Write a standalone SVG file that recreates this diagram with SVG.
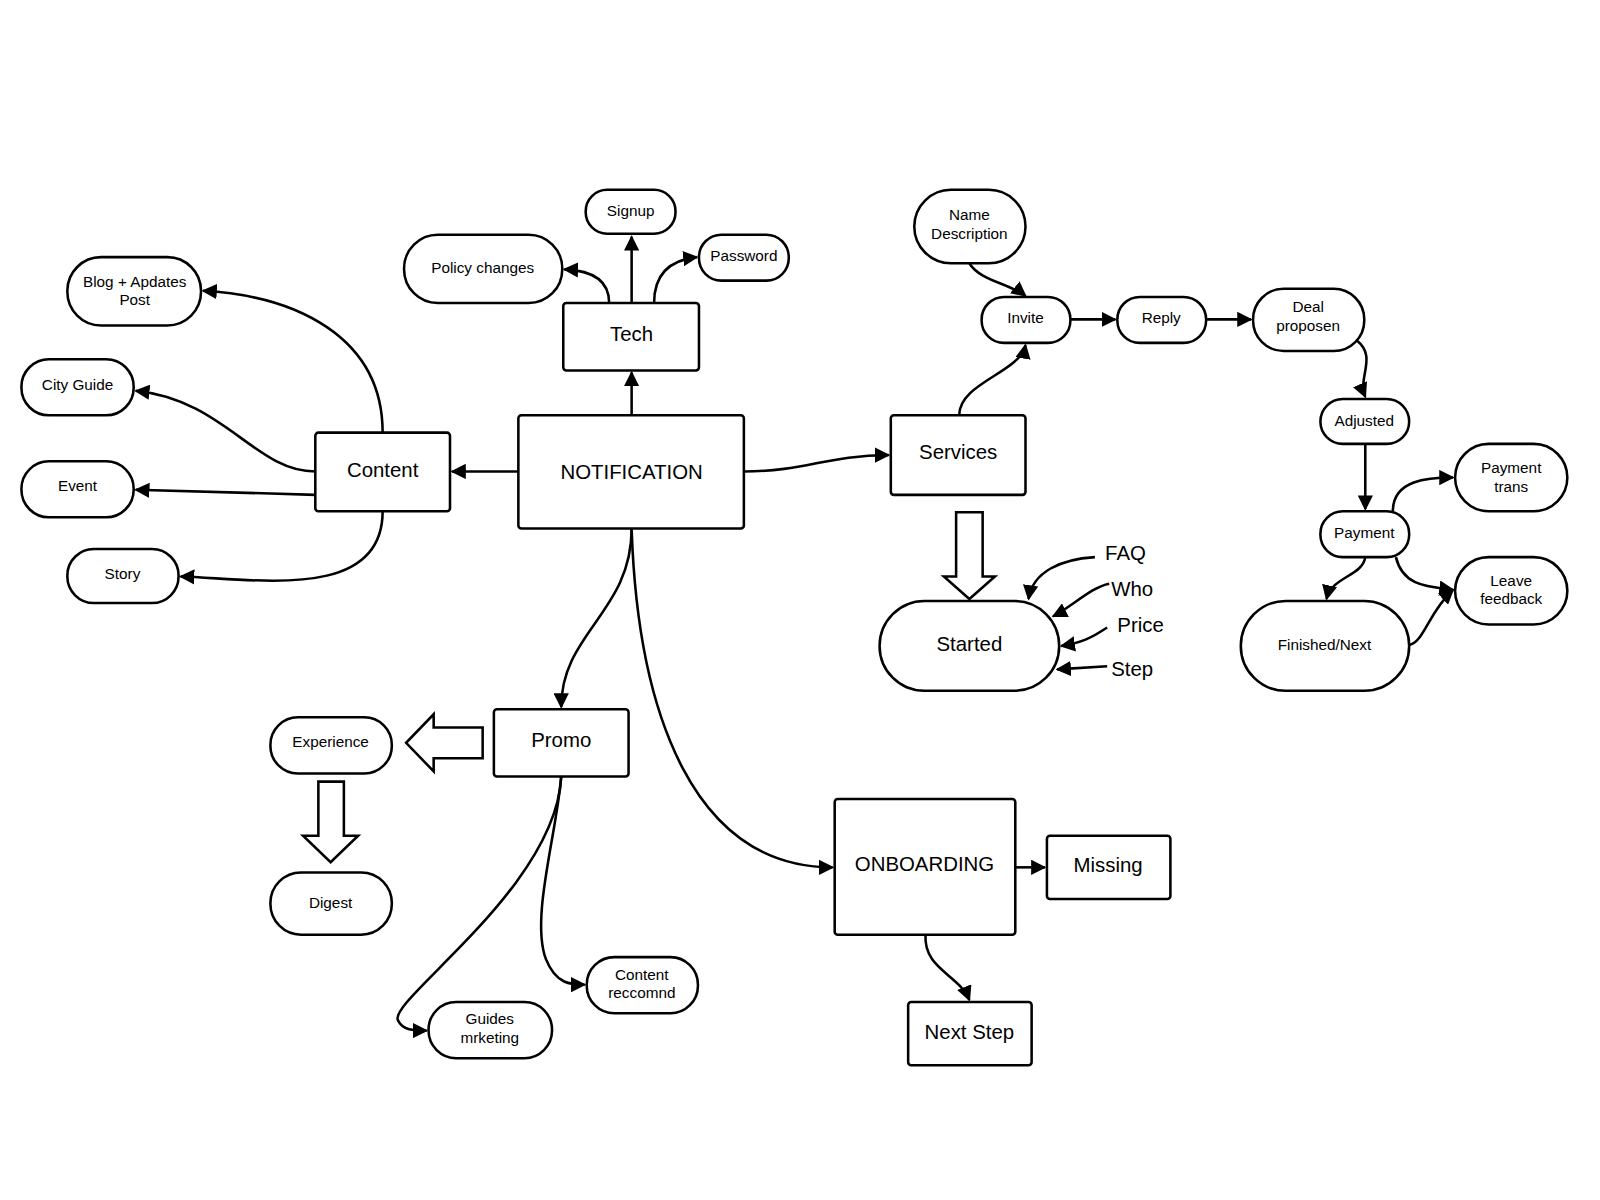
<svg xmlns="http://www.w3.org/2000/svg" width="1600" height="1200" viewBox="0 0 1600 1200">
<defs>
<marker id="a" viewBox="0 0 10 10" refX="9" refY="5" markerWidth="6" markerHeight="6" orient="auto-start-reverse"><path d="M0,0 L10,5 L0,10 z" fill="#000"/></marker>
<style>
g rect,.b{fill:#fff;stroke:#000;stroke-width:2.5}
.c path{fill:none;stroke:#000;stroke-width:2.5;marker-end:url(#a)}
text{font-family:"Liberation Sans",Arial,sans-serif;font-size:15px;text-anchor:middle;fill:#000}
.l{font-size:20px}
.f{font-size:20px;text-anchor:start}
</style>
</defs>
<rect width="1600" height="1200" fill="#fff"/>
<g id="diagram" transform="scale(1.0204)">
<g class="c">
<path d="M619,407 V365"/>
<path d="M508,462 H443"/>
<path d="M729,462 C790,462 810,446 871,446"/>
<path d="M619,297 V232"/>
<path d="M597,297 C597,275 580,265 553,264"/>
<path d="M641,297 C641,270 655,255 683,252"/>
<path d="M375,424 C375,330 290,290 199,285"/>
<path d="M309,462 C250,462 220,392 133,383"/>
<path d="M309,485 C250,483 190,482 133,480"/>
<path d="M375,501 C375,590 250,567 177,565"/>
<path d="M940,407 C940,375 1000,365 1005,338"/>
<path d="M950,258 C960,275 990,278 1005,290"/>
<path d="M1049,313 H1093"/>
<path d="M1182,313 H1226"/>
<path d="M1330,334 C1350,350 1330,370 1338,389"/>
<path d="M1338,435 V499"/>
<path d="M1365,501 C1365,470 1400,468 1424,468"/>
<path d="M1368,546 C1375,575 1400,575 1424,578"/>
<path d="M1338,546 C1335,565 1305,565 1300,587"/>
<path d="M1381,632 C1395,630 1400,600 1424,578"/>
<path d="M619,518 C619,600 550,620 550,693"/>
<path d="M619,518 C625,700 680,850 816,850"/>
<path d="M995,850 H1024"/>
<path d="M907,916 C905,950 940,955 950,980"/>
<path d="M550,761 C545,870 380,980 390,1000 C395,1010 405,1010 418,1010"/>
<path d="M550,761 C545,820 520,900 535,940 C545,965 560,965 573,965"/>
<path d="M1073,546 C1040,548 1012,560 1008,587"/>
<path d="M1087,572 C1070,575 1050,595 1032,604"/>
<path d="M1085,615 C1070,625 1060,630 1040,633"/>
<path d="M1085,653 L1036,656"/>
</g>
<path class="b" d="M937,502 H963 V565 H975 L950,587 L925,565 H937 Z"/>
<path class="b" d="M473,713 V743 H425 V756 L398,728 L425,700 V713 Z"/>
<path class="b" d="M312,766 H337 V819 H351 L324,845 L297,819 H312 Z"/>
<g id="notification"><rect x="508" y="407" width="221" height="111" rx="3"/><text x="619" y="469" class="l">NOTIFICATION</text></g>
<g id="tech"><rect x="552" y="297" width="133" height="66" rx="3"/><text x="619" y="334" class="l">Tech</text></g>
<g id="content"><rect x="309" y="424" width="132" height="77" rx="3"/><text x="375" y="467" class="l">Content</text></g>
<g id="services"><rect x="873" y="407" width="132" height="78" rx="3"/><text x="939" y="450" class="l">Services</text></g>
<g id="promo"><rect x="484" y="695" width="132" height="66" rx="3"/><text x="550" y="732" class="l">Promo</text></g>
<g id="onboarding"><rect x="818" y="783" width="177" height="133" rx="3"/><text x="906" y="854" class="l">ONBOARDING</text></g>
<g id="missing"><rect x="1026" y="819" width="121" height="62" rx="3"/><text x="1086" y="855" class="l">Missing</text></g>
<g id="nextstep"><rect x="890" y="982" width="121" height="62" rx="3"/><text x="950" y="1018" class="l">Next Step</text></g>
<g id="signup"><rect x="574" y="186" width="88" height="43" rx="21"/><text x="618" y="212">Signup</text></g>
<g id="policy"><rect x="396" y="230" width="155" height="67" rx="33"/><text x="473" y="268">Policy changes</text></g>
<g id="password"><rect x="685" y="230" width="88" height="45" rx="22"/><text x="729" y="256">Password</text></g>
<g id="blog"><rect x="66" y="252" width="131" height="67" rx="33"/><text x="132" y="281">Blog + Apdates</text><text x="132" y="299">Post</text></g>
<g id="cityguide"><rect x="21" y="352" width="110" height="55" rx="27"/><text x="76" y="382">City Guide</text></g>
<g id="event"><rect x="21" y="452" width="110" height="55" rx="27"/><text x="76" y="481">Event</text></g>
<g id="story"><rect x="66" y="538" width="109" height="53" rx="26"/><text x="120" y="567">Story</text></g>
<g id="namedesc"><rect x="896" y="186" width="109" height="72" rx="36"/><text x="950" y="216">Name</text><text x="950" y="234">Description</text></g>
<g id="invite"><rect x="962" y="291" width="87" height="45" rx="22"/><text x="1005" y="317">Invite</text></g>
<g id="reply"><rect x="1095" y="291" width="87" height="45" rx="22"/><text x="1138" y="317">Reply</text></g>
<g id="deal"><rect x="1228" y="283" width="109" height="61" rx="30"/><text x="1282" y="306">Deal</text><text x="1282" y="324">proposen</text></g>
<g id="adjusted"><rect x="1294" y="391" width="87" height="44" rx="22"/><text x="1337" y="417">Adjusted</text></g>
<g id="payment"><rect x="1294" y="501" width="87" height="45" rx="22"/><text x="1337" y="527">Payment</text></g>
<g id="paytrans"><rect x="1426" y="435" width="110" height="66" rx="33"/><text x="1481" y="464">Payment</text><text x="1481" y="482">trans</text></g>
<g id="feedback"><rect x="1426" y="546" width="110" height="66" rx="33"/><text x="1481" y="574">Leave</text><text x="1481" y="592">feedback</text></g>
<g id="finished"><rect x="1216" y="589" width="165" height="88" rx="44"/><text x="1298" y="637">Finished/Next</text></g>
<g id="started"><rect x="862" y="589" width="176" height="88" rx="44"/><text x="950" y="638" class="l">Started</text></g>
<g id="experience"><rect x="265" y="703" width="119" height="55" rx="27"/><text x="324" y="732">Experience</text></g>
<g id="digest"><rect x="265" y="855" width="119" height="61" rx="30"/><text x="324" y="890">Digest</text></g>
<g id="guides"><rect x="420" y="982" width="121" height="55" rx="27"/><text x="480" y="1004">Guides</text><text x="480" y="1022">mrketing</text></g>
<g id="contentrec"><rect x="575" y="938" width="109" height="55" rx="27"/><text x="629" y="960">Content</text><text x="629" y="978">reccomnd</text></g>
<g id="labels"><text x="1083" y="549" class="f">FAQ</text><text x="1089" y="584" class="f">Who</text><text x="1095" y="619" class="f">Price</text><text x="1089" y="662" class="f">Step</text></g>
</g>
</svg>
